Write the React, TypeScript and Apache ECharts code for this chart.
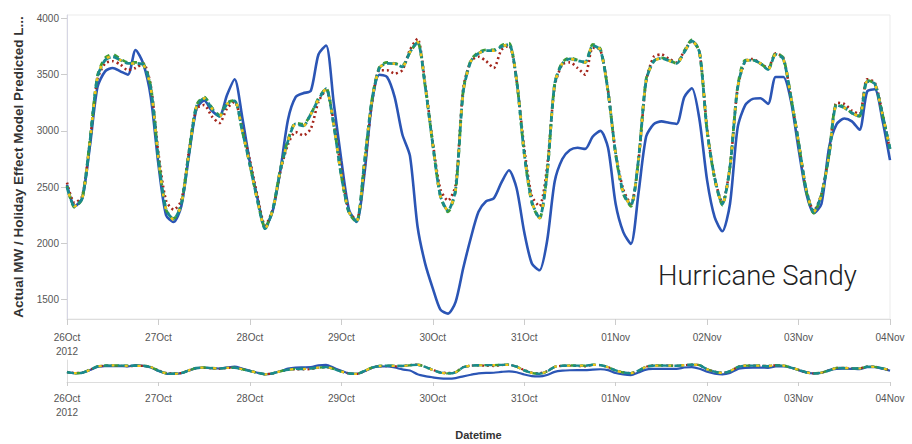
import React, { useEffect, useRef } from "react";
import * as echarts from "echarts";

// Tick labels for each day (one label every 12 two-hour steps)
const dayLabels = ["26Oct\n2012", "27Oct", "28Oct", "29Oct", "30Oct", "31Oct", "01Nov", "02Nov", "03Nov", "04Nov"];
const yTicks = [1500, 2000, 2500, 3000, 3500, 4000];

// Actual MW (two-hourly, 26 Oct 00:00 .. 04 Nov 00:00)
const actualMW = [
  2520, 2330, 2400, 2860, 3390, 3530, 3560, 3530, 3500, 3720, 3600, 3300,
  2700, 2250, 2190, 2330, 2780, 3200, 3270, 3180, 3130, 3320, 3460, 3120,
  2720, 2400, 2140, 2290, 2650, 3100, 3300, 3335, 3357, 3680, 3760, 3250,
  2740, 2300, 2190, 2600, 3241, 3500, 3480, 3300, 2970, 2780, 2150, 1820,
  1600, 1410, 1375, 1480, 1780, 2050, 2280, 2375, 2400, 2540, 2650, 2490,
  2100, 1820, 1760, 2020, 2550, 2750, 2830, 2850, 2840, 2950, 3000, 2850,
  2350, 2100, 1995, 2450, 2950, 3060, 3085, 3072, 3062, 3300, 3380, 3100,
  2560, 2230, 2107, 2350, 3027, 3230, 3285, 3290, 3240, 3480, 3480, 3268,
  2840, 2450, 2270, 2350, 2850, 3060, 3110, 3085, 3010, 3350, 3370, 3100,
  2740,
];

// Holiday Effect model predictions
const predTeal = [
  2500, 2330, 2400, 2900, 3480, 3630, 3660, 3630, 3600, 3600, 3590, 3380,
  2750, 2300, 2215, 2350, 2800, 3220, 3290, 3200, 3130, 3240, 3268, 3000,
  2700, 2380, 2130, 2300, 2650, 2911, 3062, 3045, 3150, 3280, 3375, 3050,
  2600, 2280, 2196, 2700, 3268, 3560, 3600, 3598, 3570, 3700, 3790, 3400,
  2880, 2420, 2290, 2480, 3350, 3620, 3690, 3714, 3714, 3750, 3770, 3450,
  2800, 2370, 2225, 2620, 3420, 3600, 3640, 3625, 3610, 3760, 3720, 3350,
  2800, 2450, 2340, 2750, 3450, 3620, 3645, 3625, 3600, 3700, 3800, 3700,
  3000, 2580, 2348, 2680, 3380, 3620, 3630, 3600, 3545, 3680, 3640, 3300,
  2900, 2480, 2280, 2430, 2780, 3230, 3205, 3160, 3130, 3440, 3420, 3150,
  2840,
];

const predRed = [
  2540, 2360, 2420, 2900, 3460, 3600, 3620, 3590, 3540, 3560, 3600, 3400,
  2800, 2380, 2300, 2380, 2820, 3200, 3230, 3130, 3070, 3200, 3260, 3020,
  2740, 2420, 2160, 2300, 2640, 2880, 2990, 2960, 3020, 3260, 3360, 3080,
  2650, 2280, 2210, 2640, 3240, 3540, 3540, 3510, 3540, 3720, 3820, 3420,
  2900, 2480, 2380, 2520, 3380, 3620, 3660, 3620, 3560, 3720, 3760, 3450,
  2850, 2420, 2330, 2680, 3400, 3590, 3610, 3560, 3500, 3740, 3720, 3360,
  2800, 2480, 2350, 2740, 3440, 3660, 3680, 3640, 3610, 3710, 3800, 3700,
  3020, 2580, 2360, 2680, 3380, 3620, 3640, 3600, 3560, 3690, 3650, 3300,
  2900, 2480, 2290, 2440, 2790, 3250, 3240, 3180, 3150, 3460, 3430, 3160,
  2830,
];

const predGreen = [
  2510, 2320, 2400, 2910, 3490, 3650, 3680, 3640, 3610, 3610, 3600, 3390,
  2760, 2300, 2220, 2350, 2810, 3230, 3300, 3210, 3140, 3250, 3270, 3000,
  2700, 2380, 2140, 2300, 2660, 2920, 3070, 3060, 3150, 3290, 3380, 3060,
  2600, 2270, 2190, 2700, 3270, 3570, 3610, 3600, 3580, 3700, 3790, 3400,
  2880, 2420, 2280, 2470, 3360, 3630, 3700, 3720, 3720, 3760, 3780, 3450,
  2800, 2360, 2220, 2620, 3420, 3610, 3650, 3630, 3610, 3770, 3730, 3350,
  2790, 2440, 2330, 2750, 3460, 3620, 3650, 3630, 3600, 3710, 3810, 3700,
  3000, 2570, 2340, 2680, 3390, 3630, 3630, 3600, 3550, 3690, 3650, 3300,
  2900, 2470, 2270, 2430, 2790, 3240, 3210, 3160, 3130, 3450, 3420, 3150,
  2840,
];

const predYellow = [
  2500, 2330, 2400, 2900, 3480, 3640, 3660, 3630, 3600, 3600, 3590, 3380,
  2750, 2300, 2210, 2350, 2800, 3220, 3290, 3200, 3130, 3240, 3268, 3000,
  2700, 2380, 2130, 2300, 2650, 2911, 3062, 3045, 3150, 3280, 3375, 3050,
  2600, 2280, 2196, 2700, 3268, 3560, 3600, 3598, 3570, 3700, 3790, 3400,
  2880, 2420, 2290, 2480, 3350, 3620, 3690, 3714, 3714, 3750, 3770, 3450,
  2800, 2370, 2225, 2620, 3420, 3600, 3640, 3625, 3610, 3760, 3720, 3350,
  2800, 2450, 2340, 2750, 3450, 3620, 3645, 3625, 3600, 3700, 3800, 3700,
  3000, 2580, 2348, 2680, 3380, 3620, 3630, 3600, 3545, 3680, 3640, 3300,
  2900, 2480, 2280, 2430, 2780, 3230, 3205, 3160, 3130, 3440, 3420, 3150,
  2840,
];

const START = new Date(2012, 9, 26, 0, 0, 0).getTime();
const STEP = 2 * 3600 * 1000;
const categories = actualMW.map((_, i) => {
  const d = new Date(START + i * STEP);
  return `${d.getFullYear()}-${d.getMonth() + 1}-${d.getDate()} ${d.getHours()}:00`;
});

const FONT = "Liberation Sans";
const isDay = (i: number) => i % 12 === 0;

function makeXAxis(gridIndex: number, margin: number, tickLen: number, extra: any = {}) {
  return {
    type: "category",
    gridIndex,
    data: categories,
    boundaryGap: false,
    axisLine: { show: true, lineStyle: { color: "#dddddd", width: 1 } },
    axisTick: { show: true, interval: (i: number) => isDay(i), length: tickLen, lineStyle: { color: "#cccccc" } },
    axisLabel: {
      interval: (i: number) => isDay(i),
      formatter: (_v: string, i: number) => (isDay(i) ? dayLabels[i / 12] : ""),
      color: "#555555",
      fontSize: 10,
      lineHeight: 14,
      fontFamily: FONT,
      margin,
    },
    splitLine: { show: false },
    ...extra,
  };
}

function lineSeries(name: string, data: number[], idx: number, color: string, width: number, type: any, z: number, dashOffset = 0) {
  return {
    name,
    type: "line",
    xAxisIndex: idx,
    yAxisIndex: idx,
    data,
    symbol: "none",
    smooth: 0.25,
    z,
    lineStyle: { color, width, type, dashOffset, cap: "butt" },
  };
}

export default function App() {
  const ref = useRef<HTMLDivElement>(null);
  useEffect(() => {
    if (!ref.current) return;
    const chart = echarts.init(ref.current, undefined, { renderer: "svg" });
    const series: any[] = [];
    [0, 1].forEach((g) => {
      const w = g === 0 ? 1 : 0.85;
      series.push(lineSeries("Actual MW", actualMW, g, "#2b55b5", 2.6 * w, "solid", 2));
      series.push(lineSeries("Model A", predRed, g, "#a4261c", 2.6 * w, [2, 3], 3));
      series.push(lineSeries("Model B", predGreen, g, "#3f9c35", 2.8 * w, [5, 5], 4, 2));
      series.push(lineSeries("Model C", predTeal, g, "#198a8c", 2.8 * w, [10, 3], 5));
      series.push(lineSeries("Model D", predYellow, g, "#f2c417", 2.6 * w, [3, 10], 6, 6));
    });
    chart.setOption({
      animation: false,
      backgroundColor: "#ffffff",
      textStyle: { fontFamily: FONT },
      grid: [
        { left: 67, right: 22, top: 15, height: 304, show: true, borderColor: "#ebebeb", borderWidth: 1 },
        { left: 67, right: 22, top: 360, height: 22 },
      ],
      xAxis: [
        makeXAxis(0, 11, 6),
        makeXAxis(1, 9, 4, {
          name: "Datetime",
          nameLocation: "middle",
          nameGap: 47,
          nameTextStyle: { fontWeight: "bold", fontSize: 11, color: "#333333", fontFamily: FONT },
        }),
      ],
      yAxis: [
        {
          type: "value",
          gridIndex: 0,
          min: 1327,
          max: 4031,
          axisLine: { show: true, lineStyle: { color: "#d6d6e4", width: 1 } },
          axisTick: { show: true, customValues: yTicks, length: 6, lineStyle: { color: "#cccccc" } },
          axisLabel: {
            customValues: yTicks,
            formatter: (v: number) => String(v),
            color: "#555555",
            fontSize: 10,
            fontFamily: FONT,
            margin: 8,
          },
          splitLine: { show: false },
          name: "Actual MW / Holiday Effect Model Predicted L...",
          nameLocation: "middle",
          nameRotate: 90,
          nameGap: 42,
          nameTextStyle: { fontWeight: "bold", fontSize: 13.5, color: "#333333", fontFamily: FONT },
        },
        {
          type: "value",
          gridIndex: 1,
          min: 800,
          max: 4600,
          axisLine: { show: true, lineStyle: { color: "#dddddd", width: 1 } },
          axisTick: { show: false },
          axisLabel: { show: false },
          splitLine: { show: false },
        },
      ],
      graphic: [
        {
          type: "text",
          left: 658,
          top: 261,
          silent: true,
          style: { text: "Hurricane Sandy", fill: "#222222", fontSize: 27.5, fontWeight: 300, fontFamily: "Roboto" },
        },
      ],
      series,
    });
    return () => chart.dispose();
  }, []);
  return <div ref={ref} style={{ position: "fixed", left: 0, top: 0, width: 912, height: 444 }} />;
}
